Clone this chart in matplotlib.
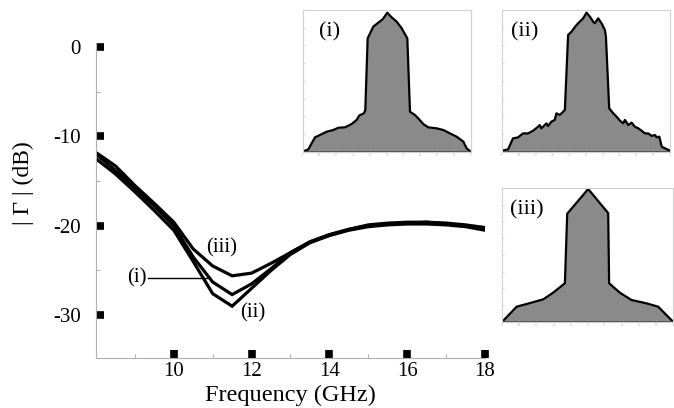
import matplotlib
matplotlib.use("Agg")
import matplotlib.pyplot as plt
import numpy as np

plt.rcParams['font.family'] = ['Liberation Serif', 'DejaVu Serif']
plt.rcParams['axes.unicode_minus'] = False

# ---- main reflection curves ----
freq = [8, 8.5, 9, 9.5, 10, 10.5, 11, 11.5, 12, 12.5, 13, 13.5, 14, 14.5,
        15, 15.5, 16, 16.5, 17, 17.5, 18]
gamma_i = [-12.0, -13.8, -15.8, -17.8, -20.0, -23.5, -26.3, -27.7, -26.5, -24.8,
           -23.0, -21.8, -21.0, -20.4, -20.0, -19.8, -19.7, -19.6, -19.8, -20.0, -20.3]
gamma_ii = [-12.5, -14.2, -16.2, -18.3, -20.5, -24.0, -27.6, -29.0, -27.0, -25.0,
            -23.2, -21.9, -21.1, -20.5, -20.1, -19.9, -19.8, -19.8, -19.9, -20.1, -20.5]
gamma_iii = [-11.8, -13.3, -15.5, -17.5, -19.6, -22.6, -24.5, -25.6, -25.3, -24.2,
             -23.0, -21.8, -21.0, -20.4, -19.9, -19.7, -19.6, -19.6, -19.7, -19.9, -20.2]
x_ticks = [10, 12, 14, 16, 18]
y_ticks = [0, -10, -20, -30]

# ---- inset profiles (normalised position, normalised height) ----
prof_i_x = [-1, -0.933, -0.853, -0.794, -0.714, -0.635, -0.575, -0.496, -0.417, -0.357,
            -0.325, -0.270, -0.254, -0.226, -0.159, -0.099, -0.048, 0.008, 0.060, 0.119,
            0.179, 0.246, 0.278, 0.337, 0.377, 0.437, 0.496, 0.595, 0.675, 0.754,
            0.833, 0.913, 0.952, 1.0]
prof_i_y = [0, 0.016, 0.101, 0.118, 0.141, 0.153, 0.169, 0.172, 0.195, 0.224,
            0.256, 0.271, 0.294, 0.800, 0.882, 0.911, 0.934, 0.981, 0.948, 0.918,
            0.871, 0.800, 0.282, 0.259, 0.235, 0.195, 0.172, 0.165, 0.153, 0.129,
            0.106, 0.071, 0.024, 0]
prof_ii_x = [-1.0, -0.928, -0.869, -0.809, -0.750, -0.690, -0.630, -0.571, -0.551, -0.531,
             -0.471, -0.451, -0.412, -0.372, -0.352, -0.312, -0.272, -0.252, -0.213, -0.173,
             -0.113, -0.074, -0.034, 0.006, 0.046, 0.085, 0.105, 0.145, 0.185, 0.225,
             0.237, 0.276, 0.324, 0.364, 0.404, 0.443, 0.463, 0.503, 0.543, 0.582,
             0.622, 0.662, 0.702, 0.742, 0.781, 0.821, 0.841, 0.873, 0.901, 0.940, 1.0]
prof_ii_y = [0.007, 0.016, 0.094, 0.101, 0.129, 0.129, 0.148, 0.176, 0.188, 0.165,
             0.200, 0.181, 0.212, 0.224, 0.271, 0.259, 0.282, 0.294, 0.824, 0.847,
             0.894, 0.918, 0.941, 0.981, 0.953, 0.918, 0.906, 0.941, 0.906, 0.859,
             0.812, 0.306, 0.271, 0.247, 0.219, 0.200, 0.224, 0.188, 0.205, 0.176,
             0.165, 0.148, 0.129, 0.129, 0.111, 0.118, 0.101, 0.106, 0.035, 0.024, 0.007]
prof_iii_x = [-1, -0.832, -0.715, -0.520, -0.404, -0.267, -0.240, 0.006, 0.240, 0.251,
              0.376, 0.513, 0.688, 0.825, 1.0]
prof_iii_y = [0, 0.1125, 0.1325, 0.1675, 0.2175, 0.2875, 0.8075, 0.9925, 0.8125, 0.2875,
              0.2175, 0.1625, 0.1375, 0.1125, 0]

fig = plt.figure(figsize=(6.74, 4.08), dpi=100)
ax = fig.add_axes([0.1424, 0.1225, 0.5772, 0.772])

for g in (gamma_i, gamma_ii, gamma_iii):
    ax.plot(freq, g, color='black', lw=2.3, solid_joinstyle='miter')

ax.set_xlim(8, 18)
ax.set_ylim(-34.8, 0.45)
for s in ('top', 'right'):
    ax.spines[s].set_visible(False)
for s in ('left', 'bottom'):
    ax.spines[s].set_color('#b0b0b0')
    ax.spines[s].set_linewidth(0.8)

ax.set_xticks(x_ticks)
ax.set_yticks(y_ticks)
ax.set_xticks([9, 11, 13, 15, 17], minor=True)
ax.set_yticks([-5, -15, -25], minor=True)
ax.tick_params(which='major', direction='in', length=6, width=5.5, color='black',
               labelsize=15, pad=11)
ax.tick_params(axis='x', which='major', pad=3)
ax.tick_params(which='minor', direction='in', length=3, width=0.8, color='#b0b0b0')
ax.set_xlabel('Frequency (GHz)', fontsize=17.5)
ax.xaxis.set_label_coords(0.5, -0.086)
ax.set_ylabel('| Γ | (dB)', fontsize=17)
ax.yaxis.set_label_coords(-0.16, 0.556)

ax.text(11.23, -22.5, '(iii)', fontsize=15, ha='center', va='center')
ax.text(9.06, -25.8, '(i)', fontsize=15, ha='center', va='center')
ax.plot([9.34, 10.94], [-25.8, -25.8], color='black', lw=1.0)
ax.text(12.03, -29.8, '(ii)', fontsize=15, ha='center', va='center')


def inset(rect, px, py, label, lx, ly):
    a = fig.add_axes(rect)
    a.fill_between(px, py, 0, color='#8a8a8a', lw=0)
    a.plot(px, py, color='black', lw=1.6)
    a.axhline(0, color='#444444', lw=1.2)
    a.set_xlim(-1, 1)
    a.set_ylim(0, 1.0)
    for s in a.spines.values():
        s.set_color('#d0d0d0')
        s.set_linewidth(0.8)
    a.set_xticks(np.linspace(-1, 1, 11))
    a.set_yticks(np.linspace(0, 1, 9))
    a.set_xticklabels(['-1', '-.8', '-.6', '-.4', '-.2', '0', '.2', '.4', '.6', '.8', '1'])
    a.set_yticklabels([])
    a.tick_params(direction='in', length=1.5, width=0.5, color='#c8c8c8',
                  labelsize=3, labelcolor='#b0b0b0', pad=1)
    a.text(lx, ly, label, transform=a.transAxes, fontsize=16, ha='center', va='center')
    return a


inset([0.449, 0.6282, 0.2493, 0.3473], prof_i_x, prof_i_y, '(i)', 0.16, 0.845)
inset([0.7448, 0.6282, 0.2493, 0.3473], prof_ii_x, prof_ii_y, '(ii)', 0.137, 0.845)
inset([0.7453, 0.2115, 0.2533, 0.3277], prof_iii_x, prof_iii_y, '(iii)', 0.143, 0.835)

fig.savefig('out.png', dpi=100)
